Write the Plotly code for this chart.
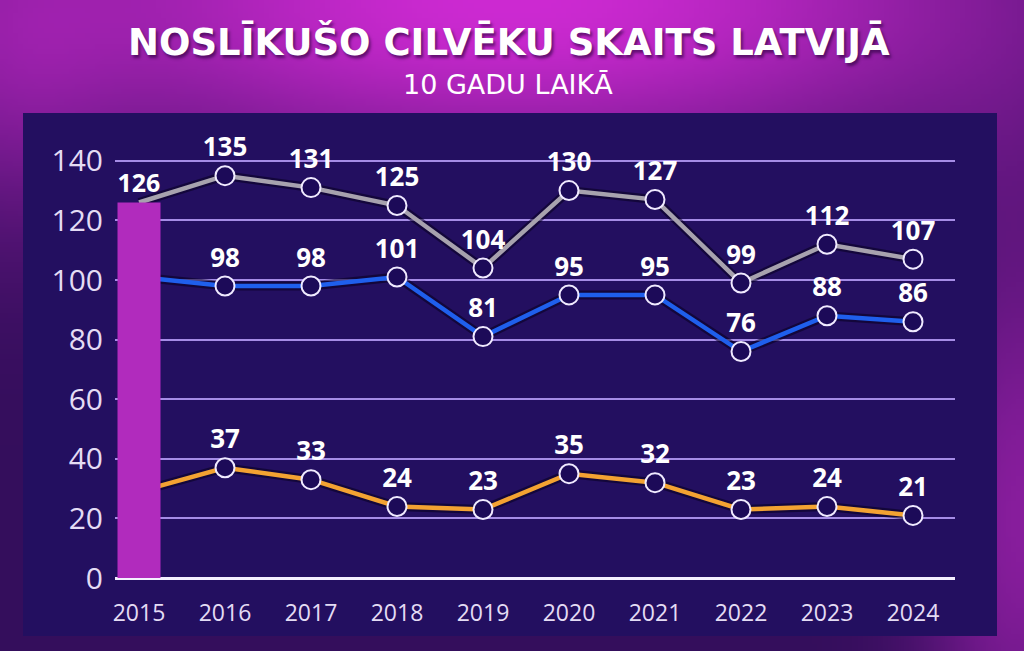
import base64
import struct
import zlib

import numpy as np
import plotly.graph_objects as go

# ---------------- data ----------------
years = ["2015", "2016", "2017", "2018", "2019", "2020", "2021", "2022", "2023", "2024"]
total_values = [126, 135, 131, 125, 104, 130, 127, 99, 112, 107]
blue_values = [101, 98, 98, 101, 81, 95, 95, 76, 88, 86]
orange_values = [29, 37, 33, 24, 23, 35, 32, 23, 24, 21]
highlight_years = ["2015"]
highlight_values = [126]
y_tick_values = [0, 20, 40, 60, 80, 100, 120, 140]
title_text = "NOSLĪKUŠO CILVĒKU SKAITS LATVIJĀ"
subtitle_text = "10 GADU LAIKĀ"

# ---------------- geometry ----------------
W, H = 1024, 651
ML, MR, MT, MB = 115, 69, 130, 73
PW, PH = W - ML - MR, H - MT - MB


def px_x(px):
    return (px - ML) / PW


def px_y(py):
    return (H - MB - py) / PH


# ---------------- background image (gradient) ----------------
def make_png(arr):
    h, w, _ = arr.shape
    raw = b"".join(b"\x00" + arr[i].tobytes() for i in range(h))

    def chunk(tag, data):
        c = struct.pack(">I", len(data)) + tag + data
        return c + struct.pack(">I", zlib.crc32(tag + data) & 0xFFFFFFFF)

    png = b"\x89PNG\r\n\x1a\n"
    png += chunk(b"IHDR", struct.pack(">IIBBBBB", w, h, 8, 2, 0, 0, 0))
    png += chunk(b"IDAT", zlib.compress(raw, 9))
    png += chunk(b"IEND", b"")
    return png


gw, gh = 200, 128
gx, gy = np.meshgrid(np.linspace(0, 1, gw), np.linspace(0, 1, gh))
bright = np.array([205, 42, 210], dtype=float)
dark = np.array([52, 14, 92], dtype=float)
t = np.exp(-((gx - 0.5) / 0.55) ** 2) * np.exp(-(gy / 0.28) ** 2)
t += 0.55 * np.exp(-((gx - 1.0) / 0.10) ** 2) * np.exp(-((gy - 0.8) / 0.45) ** 2)
t += 0.25 * np.exp(-((gx - 0.0) / 0.12) ** 2) * np.exp(-((gy - 0.1) / 0.3) ** 2)
t = np.clip(t, 0, 1)[..., None]
img = (dark + (bright - dark) * t).astype(np.uint8)
bg_src = "data:image/png;base64," + base64.b64encode(make_png(img)).decode()

# ---------------- styles ----------------
num_font = dict(family="Open Sans", size=26, color="white", weight="bold")
tick_color = "#e4dcf4"
grid_color = "#a58ce6"

fig = go.Figure()

series = [
    (total_values, "#a7a2ae"),
    (blue_values, "#1f5fec"),
    (orange_values, "#f3a232"),
]

# shadows under lines
for vals, col in series:
    fig.add_trace(go.Scatter(
        x=years, y=vals, mode="lines",
        line=dict(color="rgba(8,0,30,0.55)", width=9),
        hoverinfo="skip", showlegend=False,
    ))

# lines
for vals, col in series:
    fig.add_trace(go.Scatter(
        x=years, y=vals, mode="lines",
        line=dict(color=col, width=4.5),
        showlegend=False,
    ))

# marker discs (2015 point sits behind the highlight bar)
for vals, col in series:
    fig.add_trace(go.Scatter(
        x=years[1:], y=vals[1:], mode="markers",
        marker=dict(symbol="circle", size=18, color="rgb(28,10,88)",
                    opacity=1, line=dict(width=0)),
        hoverinfo="skip", showlegend=False,
    ))

# marker rings + value labels
for vals, col in series:
    fig.add_trace(go.Scatter(
        x=years[1:], y=vals[1:], mode="markers+text",
        marker=dict(symbol="circle-open", size=19, color="rgb(240,234,255)",
                    line=dict(width=2)),
        text=[str(v) for v in vals[1:]], textposition="top center",
        textfont=num_font, cliponaxis=False,
        showlegend=False,
    ))

# highlighted 2015 bar on an overlay axis so it sits above the lines
fig.add_trace(go.Bar(
    x=highlight_years, y=highlight_values,
    xaxis="x2", yaxis="y2",
    marker=dict(color="#b12bbd", line=dict(width=0)),
    width=0.5,
    text=[str(v) for v in highlight_values], textposition="outside",
    textfont=num_font, cliponaxis=False,
    showlegend=False,
))

x_range = [(ML - 139) / 86.0, (ML + PW - 139) / 86.0]
y_range = [0, PH / 2.98]

fig.update_layout(
    width=W, height=H,
    margin=dict(l=ML, r=MR, t=MT, b=MB, pad=0),
    paper_bgcolor="#3a1068",
    plot_bgcolor="rgba(0,0,0,0)",
    showlegend=False,
    xaxis=dict(
        type="category", categoryarray=years, categoryorder="array",
        range=x_range, showgrid=False, zeroline=False, showline=False,
        ticks="", tickfont=dict(family="Open Sans", size=23, color=tick_color),
        ticklabelstandoff=19, fixedrange=True,
    ),
    yaxis=dict(
        range=y_range, tickvals=y_tick_values,
        showgrid=True, gridcolor=grid_color, gridwidth=2,
        zeroline=True, zerolinecolor="#f4f0ff", zerolinewidth=3,
        showline=False, ticks="",
        tickfont=dict(family="Open Sans", size=30, color=tick_color),
        ticklabelstandoff=11, fixedrange=True,
    ),
    xaxis2=dict(
        type="category", categoryarray=years, categoryorder="array",
        range=x_range, overlaying="x", visible=False, fixedrange=True,
    ),
    yaxis2=dict(range=y_range, overlaying="y", visible=False, fixedrange=True),
    images=[dict(
        source=bg_src, xref="paper", yref="paper",
        x=px_x(0), y=px_y(0), sizex=W / PW, sizey=H / PH,
        xanchor="left", yanchor="top", sizing="stretch", layer="below",
    )],
    shapes=[dict(
        type="rect", xref="paper", yref="paper",
        x0=px_x(23), x1=px_x(997), y0=px_y(636), y1=px_y(113),
        fillcolor="#230f60", line=dict(width=0), layer="below",
    )],
    annotations=[
        dict(text=title_text, xref="paper", yref="paper",
             x=px_x(509), y=px_y(42), xanchor="center", yanchor="middle",
             showarrow=False,
             font=dict(family="DejaVu Sans", size=37, color="white", weight="bold",
                       shadow="2px 3px 3px rgba(40,0,60,0.6)")),
        dict(text=subtitle_text, xref="paper", yref="paper",
             x=px_x(508), y=px_y(84), xanchor="center", yanchor="middle",
             showarrow=False,
             font=dict(family="DejaVu Sans", size=27, color="white")),
    ],
)

fig.write_html(
    "out.html",
    config={"displayModeBar": False},
    post_script="document.body.style.margin='0';document.body.style.overflow='hidden';",
)
